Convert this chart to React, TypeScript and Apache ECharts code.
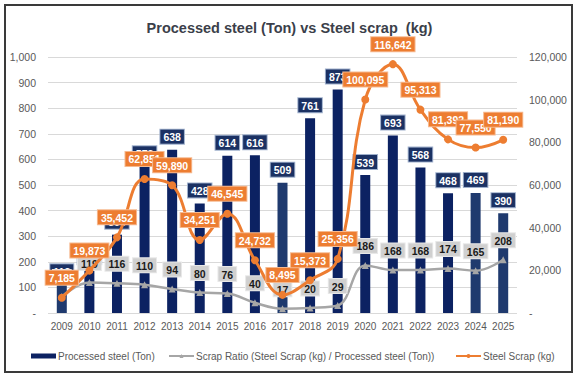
import React, { useEffect, useRef } from "react";
import * as echarts from "echarts";

const years = ["2009","2010","2011","2012","2013","2014","2015","2016","2017","2018","2019","2020","2021","2022","2023","2024","2025"];
const processedSteel = [112, 167, 306, 573, 638, 428, 614, 616, 509, 761, 873, 539, 693, 568, 468, 469, 390];
const scrapRatio = [64, 119, 116, 110, 94, 80, 76, 40, 17, 20, 29, 186, 168, 168, 174, 165, 208];
const steelScrap = [7185, 19873, 35452, 62851, 59890, 34251, 46545, 24732, 8495, 15373, 25356, 100095, 116642, 95313, 81392, 77550, 81190];
const lighterBars = ["2009", "2017", "2024", "2025"];

const FONT = "'Liberation Sans', Arial, sans-serif";
const fmt = (v: number) => (v === 0 ? "-" : v.toLocaleString("en-US"));

const NAME_BAR = "Processed steel (Ton)";
const NAME_RATIO = "Scrap Ratio (Steel Scrap (kg) / Processed steel (Ton))";
const NAME_SCRAP = "Steel Scrap (kg)";

const labelBase = {
  show: true,
  position: "top",
  fontFamily: FONT,
  fontSize: 10.5,
  fontWeight: "bold",
  padding: [2, 3, 1, 3],
  borderWidth: 1,
};

export default function App() {
  const ref = useRef<HTMLDivElement>(null);
  useEffect(() => {
    if (!ref.current) return;
    const chart = echarts.init(ref.current, undefined, { renderer: "svg" });
    const legendCommon = {
      top: 346,
      itemWidth: 25,
      itemHeight: 5,
      textStyle: { fontFamily: FONT, fontSize: 10, color: "#595959", padding: [0, 0, 0, -3] },
    };
    chart.setOption({
      animation: false,
      textStyle: { fontFamily: FONT },
      title: {
        text: "Processed steel (Ton) vs Steel scrap  (kg)",
        left: "center",
        top: 15,
        textStyle: { fontFamily: FONT, fontSize: 14.5, fontWeight: "bold", color: "#3B3F4A" },
      },
      graphic: [
        {
          type: "rect",
          shape: { x: 5, y: 5, width: 567, height: 367 },
          style: { fill: "none", stroke: "#3a3a3a", lineWidth: 2 },
          silent: true,
        },
      ],
      grid: { left: 48, right: 62, top: 57, bottom: 65, containLabel: false },
      legend: [
        { ...legendCommon, left: 26, data: [{ name: NAME_BAR, icon: "rect" }] },
        { ...legendCommon, left: 163, data: [{ name: NAME_RATIO }] },
        { ...legendCommon, left: 450, data: [{ name: NAME_SCRAP }] },
      ],
      xAxis: {
        type: "category",
        data: years,
        axisLine: { show: false },
        axisTick: { show: false },
        axisLabel: { fontFamily: FONT, fontSize: 10, color: "#595959", margin: 8, interval: 0 },
      },
      yAxis: [
        {
          type: "value",
          min: 0,
          max: 1000,
          interval: 100,
          axisLabel: { fontFamily: FONT, fontSize: 10.5, color: "#595959", formatter: fmt, margin: 12 },
          splitLine: { lineStyle: { color: "#D9D9D9", width: 1 } },
          axisLine: { show: false },
          axisTick: { show: false },
        },
        {
          type: "value",
          min: 0,
          max: 120000,
          interval: 20000,
          axisLabel: { fontFamily: FONT, fontSize: 10.5, color: "#595959", formatter: fmt, margin: 12 },
          splitLine: { show: false },
          axisLine: { show: false },
          axisTick: { show: false },
        },
      ],
      series: [
        {
          name: NAME_BAR,
          type: "bar",
          yAxisIndex: 0,
          z: 2,
          barWidth: 10,
          itemStyle: { color: "#0C2262" },
          data: processedSteel.map((v, i) => ({
            value: v,
            itemStyle: { color: lighterBars.includes(years[i]) ? "#1F3A6E" : "#0C2262" },
          })),
          label: {
            ...labelBase,
            distance: 6,
            formatter: (p: any) => fmt(p.value),
            color: "#FFFFFF",
            backgroundColor: "#1B3163",
            borderColor: "#9FB0CC",
          },
        },
        {
          name: NAME_RATIO,
          type: "line",
          yAxisIndex: 0,
          z: 3,
          smooth: 0.4,
          symbol: "triangle",
          symbolSize: 7,
          lineStyle: { color: "#A6A6A6", width: 2.5 },
          itemStyle: { color: "#A6A6A6" },
          data: scrapRatio,
          label: {
            ...labelBase,
            distance: 9,
            formatter: (p: any) => fmt(p.value),
            color: "#1A1A1A",
            backgroundColor: "#D0D0D0",
            borderColor: "#E8E8E8",
          },
        },
        {
          name: NAME_SCRAP,
          type: "line",
          yAxisIndex: 1,
          z: 4,
          smooth: 0.4,
          symbol: "circle",
          symbolSize: 8,
          lineStyle: { color: "#ED7D31", width: 3 },
          itemStyle: { color: "#ED7D31" },
          data: steelScrap,
          label: {
            ...labelBase,
            distance: 9,
            formatter: (p: any) => fmt(p.value),
            color: "#FFFFFF",
            backgroundColor: "#ED7D31",
            borderColor: "#F6B98F",
          },
        },
      ],
    });
    return () => chart.dispose();
  }, []);
  return (
    <div
      ref={ref}
      style={{ position: "fixed", left: 0, top: 0, width: 579, height: 378, background: "#fff" }}
    />
  );
}
